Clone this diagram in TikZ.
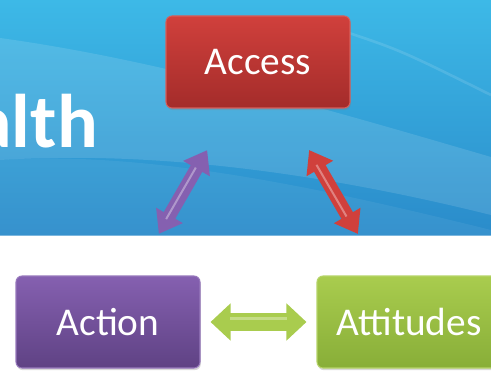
\documentclass[tikz,border=0pt]{standalone}
\usepackage{fontspec}
\setmainfont{Carlito}
\usetikzlibrary{arrows.meta,shadows}

\definecolor{skytop}{HTML}{3DB9E7}
\definecolor{skybot}{HTML}{2A8BCA}
\definecolor{redtop}{HTML}{D0403C}
\definecolor{redbot}{HTML}{A42C2A}
\definecolor{purtop}{HTML}{8560B0}
\definecolor{purbot}{HTML}{5F4284}
\definecolor{grntop}{HTML}{A9CC4E}
\definecolor{grnbot}{HTML}{88AE38}

\tikzset{
  box/.style={rectangle, rounded corners=4.5pt, minimum width=138pt,
    minimum height=69pt, text=white, line width=.8pt,
    font=\fontsize{29.5}{34}\selectfont,
    drop shadow={opacity=.3, shadow xshift=.6pt, shadow yshift=-1.6pt}},
  redbox/.style={box, top color=redtop, bottom color=redbot, draw=redtop!85!white},
  purbox/.style={box, top color=purtop, bottom color=purbot, draw=purtop!85!white},
  grnbox/.style={box, top color=grntop, bottom color=grnbot, draw=grntop!85!white},
  link/.style={line width=10pt,
    {Triangle[length=16pt,width=22pt]}-{Triangle[length=16pt,width=22pt]},
    shorten <=36pt, shorten >=36pt},
  shine/.style={line width=1.5pt, opacity=.7, shorten <=50pt, shorten >=50pt}
}

\begin{document}
\begin{tikzpicture}[x=0.75pt, y=-0.75pt]
	\useasboundingbox (0,0) rectangle (491,373);
	% sky band with waves
	\shade[top color=skytop, bottom color=skybot] (0,0) rectangle (491,236);
	\fill[white, opacity=.12] (0,38) .. controls (160,60) and (330,110) .. (491,157)
		-- (491,215) .. controls (330,175) and (160,150) .. (0,160) -- cycle;
	\fill[white, opacity=.06] (0,160) .. controls (150,150) and (330,190) .. (491,230)
		-- (491,236) -- (0,236) -- cycle;
	\draw[white, opacity=.12, line width=2pt] (340,30) .. controls (400,50) .. (491,95);
	\draw[white, opacity=.35, line width=1pt] (0,235.5) -- (491,235.5);
	\node[anchor=base east, text=white, inner sep=0pt,
		font=\fontsize{57}{62}\selectfont\bfseries] (title) at (98,148) {alth};

	% the three boxes
	\node[redbox] (access) at (258,62) {Access};
	\node[purbox] (action) at (108,322) {Action};
	\node[grnbox] (attitudes) at (409,322) {Attitudes};

	% links
	\draw[link, purtop] (action) -- (access);
	\draw[link, redtop] (access) -- (attitudes);
	\draw[line width=13.5pt, grntop,
		{Triangle[length=15pt,width=27pt]}-{Triangle[length=15pt,width=27pt]},
		shorten <=7.5pt, shorten >=7.5pt] (action) -- (attitudes);
	\draw[shine, purtop!50!white, transform canvas={xshift=-1.5pt,yshift=-1pt}]
		(action) -- (access);
	\draw[shine, redtop!50!white, transform canvas={xshift=-1.5pt,yshift=1pt}]
		(access) -- (attitudes);
	\draw[line width=2.5pt, grntop!55!white, opacity=.7, shorten <=22pt, shorten >=22pt,
		transform canvas={yshift=2.5pt}] (action) -- (attitudes);
\end{tikzpicture}
\end{document}
